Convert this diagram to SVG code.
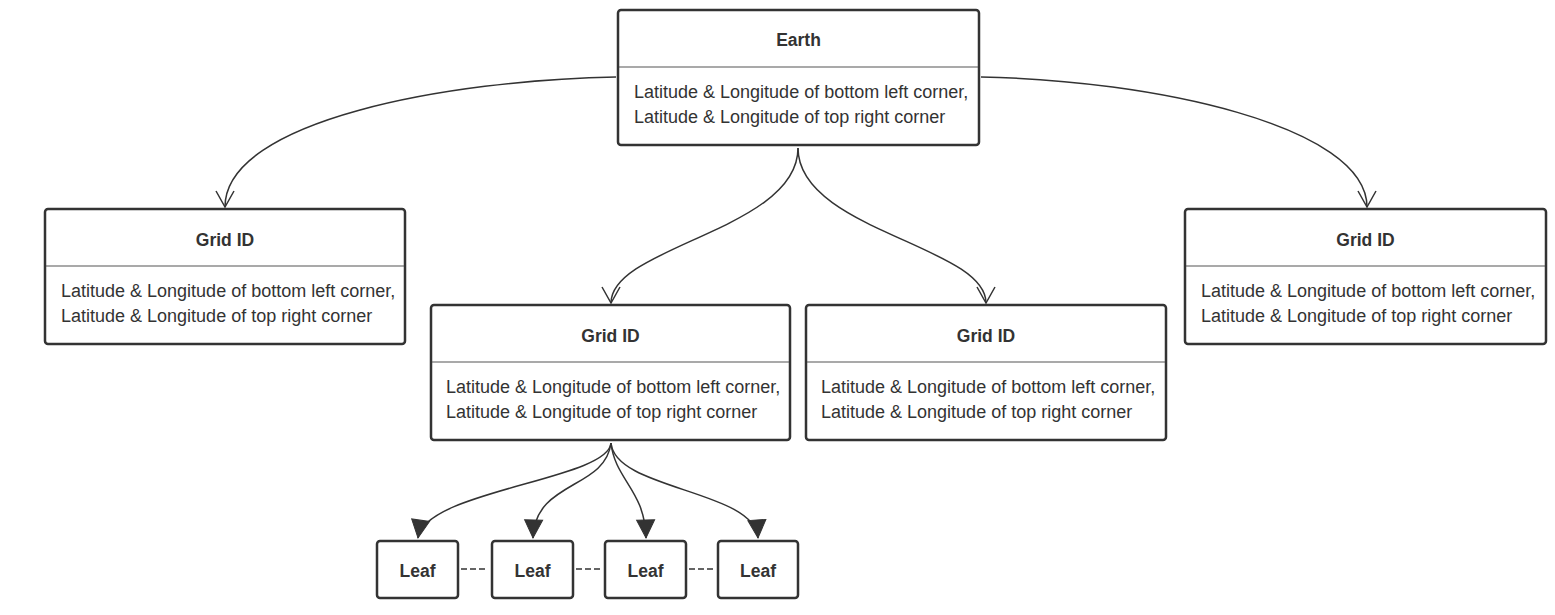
<svg xmlns="http://www.w3.org/2000/svg" width="1555" height="615" viewBox="0 0 1555 615">
<defs>
<style>
.box{fill:#fff;stroke:#333;stroke-width:2.5}
.div{stroke:#555;stroke-width:1.2}
.t{font-family:"Liberation Sans",Arial,sans-serif;font-size:18px;fill:#333}
.b{font-weight:bold;text-anchor:middle;font-size:17.5px}
.c{fill:none;stroke:#333;stroke-width:1.5}
.d{fill:none;stroke:#333;stroke-width:1.6;stroke-dasharray:6 3}
</style>
<marker id="open" markerUnits="userSpaceOnUse" viewBox="-18 -10 20 20" refX="0" refY="0" markerWidth="20" markerHeight="20" orient="auto">
<path d="M-16,-9 L0,0 L-16,9" fill="none" stroke="#333" stroke-width="1.5"/>
</marker>
<marker id="fill" markerUnits="userSpaceOnUse" viewBox="-20 -11 22 22" refX="0" refY="0" markerWidth="22" markerHeight="22" orient="auto">
<path d="M-18,-9 L0,0 L-18,9 Z" fill="#333" stroke="#333" stroke-width="1"/>
</marker>
</defs>
<rect width="1555" height="615" fill="#fff"/>
<g id="connectors">
<path class="c" marker-end="url(#open)" d="M616,77 C450,80 225,120 225,207"/>
<path class="c" marker-end="url(#open)" d="M981,77 C1150,80 1367,125 1367,207"/>
<path class="c" marker-end="url(#open)" d="M798,148 C798,230 611,246 611,303"/>
<path class="c" marker-end="url(#open)" d="M798,148 C798,230 986,246 986,303"/>
<path class="c" marker-end="url(#fill)" d="M611,443 C608,480 425,490 418,538"/>
<path class="c" marker-end="url(#fill)" d="M611,443 C605,490 535,480 533,538"/>
<path class="c" marker-end="url(#fill)" d="M611,443 C615,480 645,490 646,538"/>
<path class="c" marker-end="url(#fill)" d="M611,443 C615,490 755,490 758,538"/>
<path class="d" d="M461,569 H485"/>
<path class="d" d="M576,569 H600"/>
<path class="d" d="M689,569 H713"/>
</g>
<g id="earth">
<rect class="box" x="618" y="10" width="361" height="135" rx="3"/>
<line class="div" x1="619" y1="67" x2="978" y2="67"/>
<text class="t b" x="798.5" y="46">Earth</text>
<text class="t" x="634" y="98">Latitude &amp; Longitude of bottom left corner,</text>
<text class="t" x="634" y="123">Latitude &amp; Longitude of top right corner</text>
</g>
<g id="grid-left">
<rect class="box" x="45" y="209" width="360" height="135" rx="3"/>
<line class="div" x1="46" y1="266" x2="404" y2="266"/>
<text class="t b" x="225" y="246">Grid ID</text>
<text class="t" x="61" y="297">Latitude &amp; Longitude of bottom left corner,</text>
<text class="t" x="61" y="322">Latitude &amp; Longitude of top right corner</text>
</g>
<g id="grid-midleft">
<rect class="box" x="431" y="305" width="359" height="135" rx="3"/>
<line class="div" x1="432" y1="362" x2="789" y2="362"/>
<text class="t b" x="610.5" y="342">Grid ID</text>
<text class="t" x="446" y="393">Latitude &amp; Longitude of bottom left corner,</text>
<text class="t" x="446" y="418">Latitude &amp; Longitude of top right corner</text>
</g>
<g id="grid-midright">
<rect class="box" x="806" y="305" width="360" height="135" rx="3"/>
<line class="div" x1="807" y1="362" x2="1165" y2="362"/>
<text class="t b" x="986" y="342">Grid ID</text>
<text class="t" x="821" y="393">Latitude &amp; Longitude of bottom left corner,</text>
<text class="t" x="821" y="418">Latitude &amp; Longitude of top right corner</text>
</g>
<g id="grid-right">
<rect class="box" x="1185" y="209" width="361" height="135" rx="3"/>
<line class="div" x1="1186" y1="266" x2="1545" y2="266"/>
<text class="t b" x="1365.5" y="246">Grid ID</text>
<text class="t" x="1201" y="297">Latitude &amp; Longitude of bottom left corner,</text>
<text class="t" x="1201" y="322">Latitude &amp; Longitude of top right corner</text>
</g>
<g id="leaf1">
<rect class="box" x="377" y="541" width="81" height="57" rx="3"/>
<text class="t b" x="417.5" y="577">Leaf</text>
</g>
<g id="leaf2">
<rect class="box" x="492" y="541" width="81" height="57" rx="3"/>
<text class="t b" x="532.5" y="577">Leaf</text>
</g>
<g id="leaf3">
<rect class="box" x="605" y="541" width="81" height="57" rx="3"/>
<text class="t b" x="645.5" y="577">Leaf</text>
</g>
<g id="leaf4">
<rect class="box" x="718" y="541" width="80" height="57" rx="3"/>
<text class="t b" x="758" y="577">Leaf</text>
</g>
</svg>
